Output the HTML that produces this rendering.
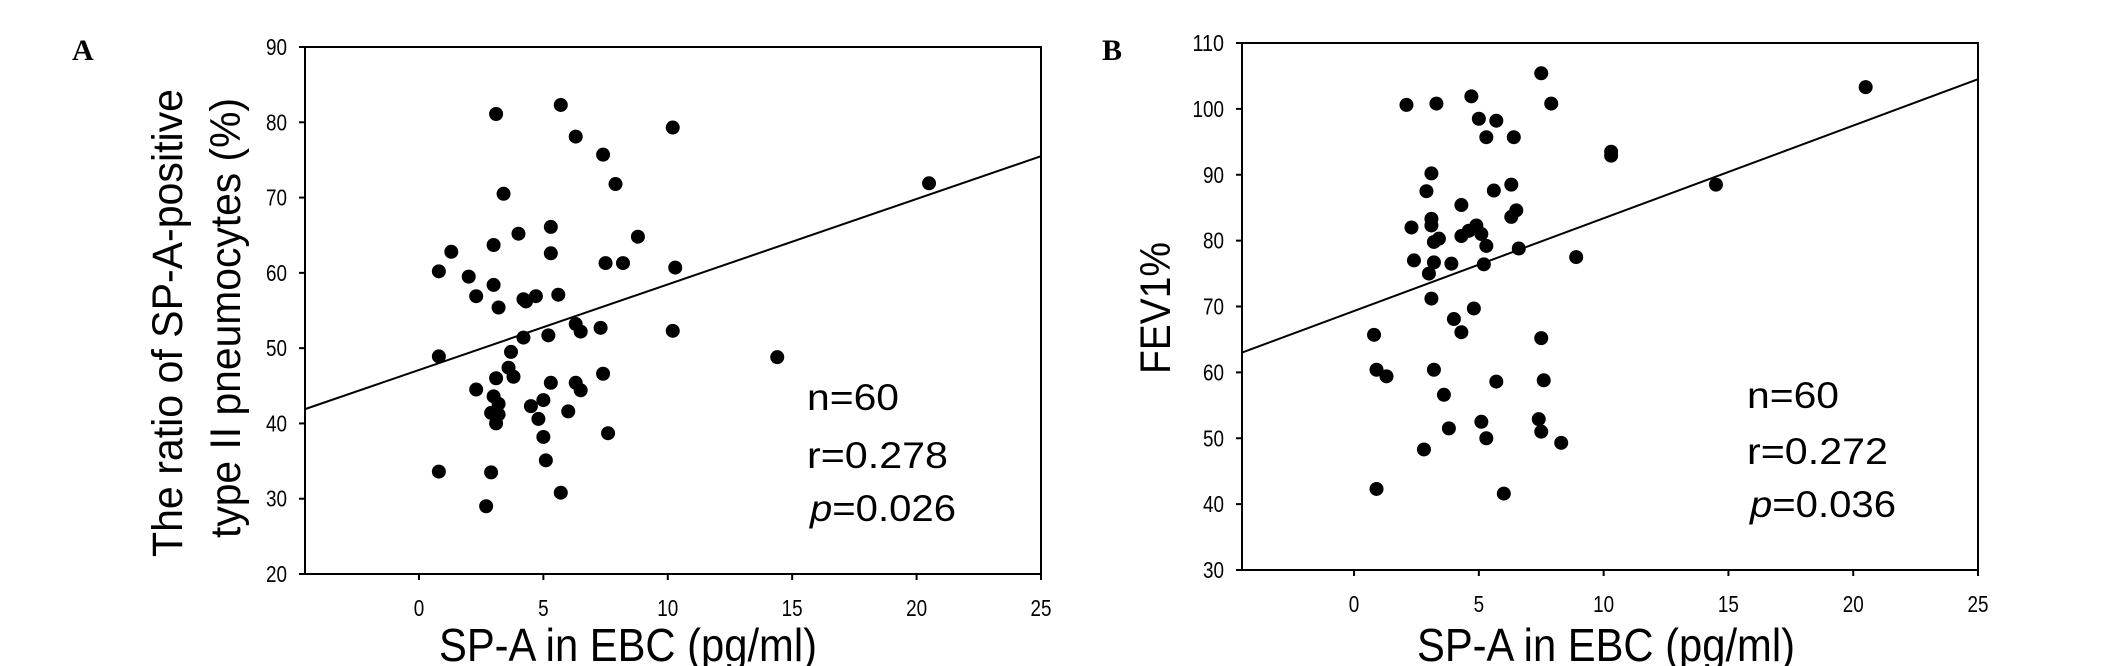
<!DOCTYPE html>
<html><head><meta charset="utf-8"><style>
html,body{margin:0;padding:0;background:#fff;}
svg{display:block;font-family:"Liberation Sans",Arial,sans-serif;}
</style></head><body>
<svg id="chart" width="2126" height="666" viewBox="0 0 2126 666" xmlns="http://www.w3.org/2000/svg">
<text x="72" y="60" font-family="Liberation Serif,serif" font-weight="bold" font-size="30">A</text>
<text x="1102" y="60" font-family="Liberation Serif,serif" font-weight="bold" font-size="30">B</text>
<g id="pa"></g>
<g id="pb"></g>
</svg>
<script>
const ticksX = [0,5,10,15,20,25];
const aTicksY = [20,30,40,50,60,70,80,90];
const bTicksY = [30,40,50,60,70,80,90,100,110];
const aX = [3.1,5.7,6.3,10.2,7.4,7.9,3.4,20.5,5.3,4.0,8.8,1.3,3.0,5.3,7.5,8.2,10.3,0.8,2.0,3.0,2.3,4.7,5.6,4.2,4.3,3.2,6.3,6.5,7.3,10.2,4.2,5.2,0.8,3.7,14.4,3.6,3.8,3.1,7.4,5.3,2.3,6.3,6.5,3.0,5.0,4.5,3.2,2.9,6.0,3.2,4.8,3.1,7.6,5.0,5.1,0.8,2.9,5.7,2.7];
const aY = [81.1,82.3,78.1,79.3,75.7,71.8,70.5,71.9,66.1,65.2,64.8,62.8,63.7,62.6,61.3,61.3,60.7,60.2,59.5,58.4,56.9,56.9,57.1,56.5,56.2,55.4,53.2,52.2,52.7,52.3,51.4,51.7,48.9,49.5,48.8,47.4,46.2,46.0,46.6,45.4,44.5,45.4,44.4,43.6,43.1,42.3,42.6,41.4,41.6,41.2,40.6,40.0,38.7,38.2,35.1,33.6,33.5,30.8,29.0];
const bX = [7.5,20.5,4.7,2.1,3.3,7.9,5.0,5.7,5.3,6.4,10.3,10.3,3.1,6.3,14.5,2.9,5.6,4.3,6.5,6.3,2.3,3.1,3.1,4.9,4.6,5.1,4.3,3.4,3.2,5.3,6.6,8.9,2.4,3.2,3.9,5.2,3.0,3.1,4.8,4.0,4.3,0.8,7.5,0.9,1.3,3.2,5.7,7.6,3.6,5.1,7.4,3.8,7.5,5.3,8.3,2.8,0.9,6.0];
const bY = [105.4,103.3,101.9,100.6,100.8,100.8,98.5,98.2,95.7,95.7,93.5,92.9,90.2,88.5,88.5,87.5,87.6,85.4,84.6,83.6,82.0,83.3,82.3,82.3,81.5,81.0,80.7,80.3,79.8,79.2,78.8,77.5,77.0,76.7,76.5,76.4,75.0,71.2,69.7,68.1,66.1,65.7,65.2,60.4,59.4,60.4,58.6,58.8,56.6,52.5,52.9,51.5,51.0,50.0,49.3,48.3,42.3,41.6];
const aLine = [[-4.58,41.9],[25,75.5]];
const bLine = [[-4.49,63.0],[25,104.5]];
const aStats = ["n=60","r=0.278","0.026"];
const bStats = ["n=60","r=0.272","0.036"];

const NS="http://www.w3.org/2000/svg";
function mk(parent,tag,attrs,txt){const e=document.createElementNS(NS,tag);for(const k in attrs)e.setAttribute(k,attrs[k]);if(txt!==undefined)e.textContent=txt;parent.appendChild(e);return e;}

function panel(g,cfg){
  const sx=v=>cfg.L+(v-cfg.xmin)/(25-cfg.xmin)*(cfg.R-cfg.L);
  const sy=v=>cfg.B-(v-cfg.ymin)/(cfg.ymax-cfg.ymin)*(cfg.B-cfg.T);
  let ax=mk(g,'path',{d:`M${cfg.L},${cfg.T}H${cfg.R}V${cfg.B}H${cfg.L}Z`,fill:'none',stroke:'#000','stroke-width':2});
  
  
  cfg.ticksY.forEach(v=>{
    const t=mk(g,'line',{x1:cfg.L-6,x2:cfg.L,y1:sy(v),y2:sy(v),stroke:'#000','stroke-width':2});
    
    
    const s=String(v);
    const l=mk(g,'text',{x:cfg.L-18,y:sy(v)+8,'font-size':23,'text-anchor':'end',textLength:s.length*10.5,lengthAdjust:'spacingAndGlyphs'},s);
    
    
  });
  ticksX.forEach(v=>{
    const t=mk(g,'line',{x1:sx(v),x2:sx(v),y1:cfg.B,y2:cfg.B+6,stroke:'#000','stroke-width':2});
    
    
    const s=String(v);
    const l=mk(g,'text',{x:sx(v),y:cfg.B+42,'font-size':23,'text-anchor':'middle',textLength:s.length*10.5,lengthAdjust:'spacingAndGlyphs'},s);
    
    
  });
  const ln=mk(g,'line',{x1:sx(cfg.line[0][0]),y1:sy(cfg.line[0][1]),x2:sx(cfg.line[1][0]),y2:sy(cfg.line[1][1]),stroke:'#000','stroke-width':2});
  
  
  cfg.xs.forEach((x,i)=>{
    const c=mk(g,'circle',{cx:sx(x),cy:sy(cfg.ys[i]),r:7,fill:'#000'});
    
    
  });
  const xl=mk(g,'text',{x:cfg.xlc,y:661,'font-size':46,'text-anchor':'middle',textLength:378,lengthAdjust:'spacingAndGlyphs'},'SP-A in EBC (pg/ml)');
  
  
  const st=cfg.stats;
  const s1=mk(g,'text',{x:cfg.sx,y:cfg.sb[0],'font-size':37,textLength:92,lengthAdjust:'spacingAndGlyphs'},st[0]);
  
  
  const s2=mk(g,'text',{x:cfg.sx,y:cfg.sb[1],'font-size':37,textLength:141,lengthAdjust:'spacingAndGlyphs'},st[1]);
  
  
  const s3=mk(g,'text',{x:cfg.sx+3,y:cfg.sb[2],'font-size':37});
  
  
  mk(s3,'tspan',{'font-style':'italic'},'p');
  mk(s3,'tspan',{},'='+st[2]);
  s3.setAttribute('textLength',146);
  s3.setAttribute('lengthAdjust','spacingAndGlyphs');
}

panel(document.getElementById('pa'),{L:305,R:1041,T:47,B:574,xmin:-4.58,ymin:20,ymax:90,ticksY:aTicksY,xs:aX,ys:aY,line:aLine,stats:aStats,xlc:628,sx:807,sb:[410,468,521]});
panel(document.getElementById('pb'),{L:1242,R:1978,T:43,B:570,xmin:-4.49,ymin:30,ymax:110,ticksY:bTicksY,xs:bX,ys:bY,line:bLine,stats:bStats,xlc:1606,sx:1747,sb:[408,464,517]});

const svg=document.getElementById('chart');
const y1=mk(svg,'text',{transform:'translate(182,323) rotate(-90)','font-size':43,'text-anchor':'middle',textLength:468,lengthAdjust:'spacingAndGlyphs'},'The ratio of SP-A-positive');


const y2=mk(svg,'text',{transform:'translate(240,318) rotate(-90)','font-size':43,'text-anchor':'middle',textLength:440,lengthAdjust:'spacingAndGlyphs'},'type II pneumocytes (%)');


const y3=mk(svg,'text',{transform:'translate(1170,308) rotate(-90)','font-size':43,'text-anchor':'middle',textLength:132,lengthAdjust:'spacingAndGlyphs'},'FEV1%');


</script>
</body></html>
